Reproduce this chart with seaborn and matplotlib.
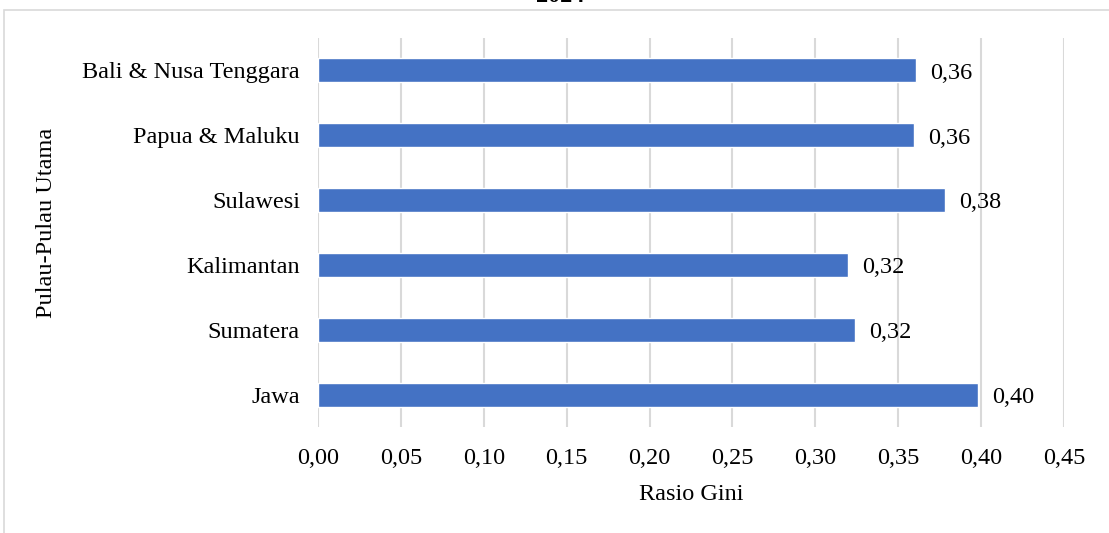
import matplotlib
matplotlib.use("Agg")
import matplotlib.pyplot as plt
import seaborn as sns
import pandas as pd
from matplotlib.patches import Rectangle
from matplotlib.transforms import offset_copy

categories = ["Bali & Nusa Tenggara", "Papua & Maluku", "Sulawesi", "Kalimantan", "Sumatera", "Jawa"]
values = [0.361, 0.3595, 0.378, 0.320, 0.324, 0.398]
xticks = [0.00, 0.05, 0.10, 0.15, 0.20, 0.25, 0.30, 0.35, 0.40, 0.45]

sns.set_theme(style="white")
plt.rcParams["font.family"] = ["Liberation Serif", "DejaVu Serif"]

FS = 17.5
df = pd.DataFrame({"Pulau": categories, "Gini": values})

fig = plt.figure(figsize=(11.09, 5.33), dpi=100)
ax = fig.add_axes([318/1109, 1-427/533, (1064-318)/1109, (427-38)/533])

sns.barplot(data=df, y="Pulau", x="Gini", orient="h", color="#4472C4",
            saturation=1, width=0.37, ax=ax)

ax.set_xlim(0, 0.45)
ax.set_xticks(xticks)
ax.set_xticklabels([f"{t:.2f}".replace(".", ",") for t in xticks], fontsize=FS)
ax.tick_params(axis="y", labelsize=FS, length=0, pad=13, labelcolor="black")
ax.tick_params(axis="x", length=0, pad=15, labelcolor="black")
ax.grid(axis="x", color="#d9d9d9", linewidth=1.5)
ax.set_axisbelow(True)
for s in ax.spines.values():
    s.set_visible(False)

lab_tr = offset_copy(ax.transData, fig=fig, x=0, y=-2, units="points")
for i, v in enumerate(values):
    ax.text(v + 0.0085, i, f"{v:.2f}".replace(".", ","), va="center", ha="left",
            fontsize=FS, color="black", transform=lab_tr)

ax.set_xlabel("Rasio Gini", fontsize=FS, color="black")
ax.xaxis.set_label_coords(0.5, -(484-427)/389)
ax.set_ylabel("Pulau-Pulau Utama", fontsize=FS, color="black")
ax.yaxis.set_label_coords(-(318-57)/746, 0.525)

fig.patches.append(Rectangle((4/1109, -0.1), 1.2, 1 - 10/533 + 0.1, transform=fig.transFigure,
                             fill=False, edgecolor="#d9d9d9", linewidth=1.2))
fig.text(560/1109, 1 + 4/533, "2024", ha="center", va="center", fontsize=FS,
         fontweight="bold", color="black")

fig.savefig("out.png", dpi=100)
